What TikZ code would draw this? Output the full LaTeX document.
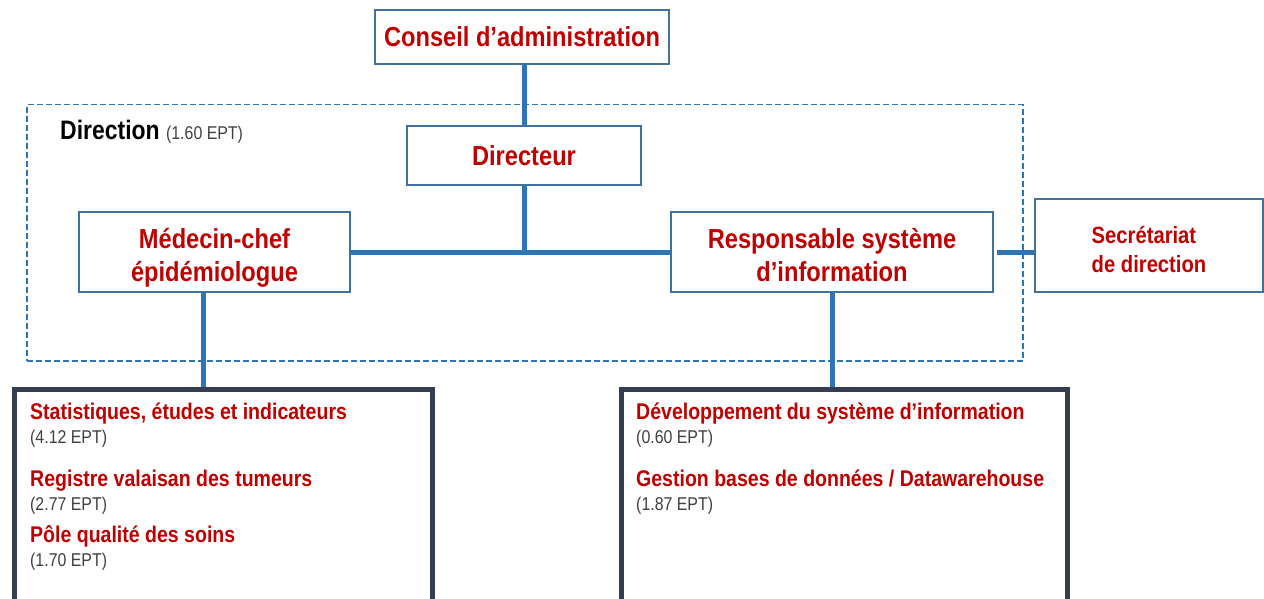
\documentclass[tikz,border=0pt]{standalone}
\usepackage{fontspec}
\setmainfont{Liberation Sans}[FakeStretch=0.86]
\definecolor{txtred}{HTML}{C00000}
\definecolor{lineblue}{HTML}{2E75B6}
\definecolor{boxblue}{HTML}{41719C}
\definecolor{slate}{HTML}{333F50}
\definecolor{eptgray}{HTML}{404040}
\newcommand{\twolines}[4]{\raisebox{-#1}[\height][\depth]{\begin{tabular}{@{}#2@{}}#3\\#4\end{tabular}}}
\tikzset{
  orgbox/.style={draw=boxblue, line width=2pt, fill=white, align=center, text=txtred, font=\bfseries\fontsize{27.5}{33}\selectfont, inner sep=0pt},
  link/.style={draw=lineblue, line width=5pt},
  unitbox/.style={draw=slate, line width=5pt, fill=white, anchor=north west, inner sep=0pt},
  unittitle/.style={anchor=base west, text=txtred, font=\bfseries\fontsize{22.7}{25}\selectfont, inner sep=0pt},
  ept/.style={anchor=base west, text=eptgray, font=\fontsize{18.5}{20}\selectfont, inner sep=0pt}
}
\begin{document}
\begin{tikzpicture}[x=1pt,y=-1pt]
\useasboundingbox (0,0) rectangle (1264,599);
% dashed direction frame
\node[draw=lineblue, dash pattern=on 6pt off 3pt, line width=1.5pt, minimum width=996pt, minimum height=256pt, anchor=north west, inner sep=0pt] (dirframe) at (26,104) {};
\node[anchor=base west, inner sep=0pt, font=\bfseries\fontsize{26.7}{30}\selectfont] (dirlabel) at (60,140) {Direction \fontsize{18.5}{20}\mdseries\selectfont\color{eptgray}(1.60 EPT)};
% boxes
\node[orgbox, minimum width=294pt, minimum height=54pt] (conseil) at (522,37) {Conseil d’administration};
\node[orgbox, minimum width=234pt, minimum height=59pt] (dir) at (524,155.5) {Directeur};
\node[orgbox, minimum width=271pt, minimum height=80pt] (med) at (214.5,252) {\twolines{6pt}{c}{Médecin-chef}{épidémiologue}};
\node[orgbox, minimum width=322pt, minimum height=80pt] (resp) at (832,252) {\twolines{6pt}{c}{Responsable système}{d’information}};
\node[orgbox, minimum width=228pt, minimum height=93pt, font=\bfseries\fontsize{23.5}{29}\selectfont] (secr) at (1149,245.5) {\twolines{6.5pt}{l}{Secrétariat}{de direction}};
% bottom units
\node[unitbox, minimum width=418pt, minimum height=240pt] (stat) at (12,387) {};
\node[unitbox, minimum width=446pt, minimum height=240pt] (dev) at (619,387) {};
% connectors
\draw[link] (conseil.south -| dir.south) -- (dir.north);
\draw[link] (med.east) -- (resp.west);
\coordinate (mid) at (dir.south |- med.east);
\draw[link] (dir.south) -- (mid);
\draw[link] ([xshift=3pt]resp.east) -- (resp.east -| secr.west);
\draw[link] (med.south -| 203,0) -- (stat.north -| 203,0);
\draw[link] (resp.south) -- (dev.north -| resp.south);
% unit texts
\node[unittitle] (t1) at (30,419) {Statistiques, études et indicateurs};
\node[ept] (e1) at (30,443) {(4.12 EPT)};
\node[unittitle] (t2) at (30,486) {Registre valaisan des tumeurs};
\node[ept] (e2) at (30,510) {(2.77 EPT)};
\node[unittitle] (t3) at (30,542) {Pôle qualité des soins};
\node[ept] (e3) at (30,566) {(1.70 EPT)};
\node[unittitle] (t4) at (636,419) {Développement du système d’information};
\node[ept] (e4) at (636,443) {(0.60 EPT)};
\node[unittitle] (t5) at (636,486) {Gestion bases de données / Datawarehouse};
\node[ept] (e5) at (636,510) {(1.87 EPT)};
\end{tikzpicture}
\end{document}
